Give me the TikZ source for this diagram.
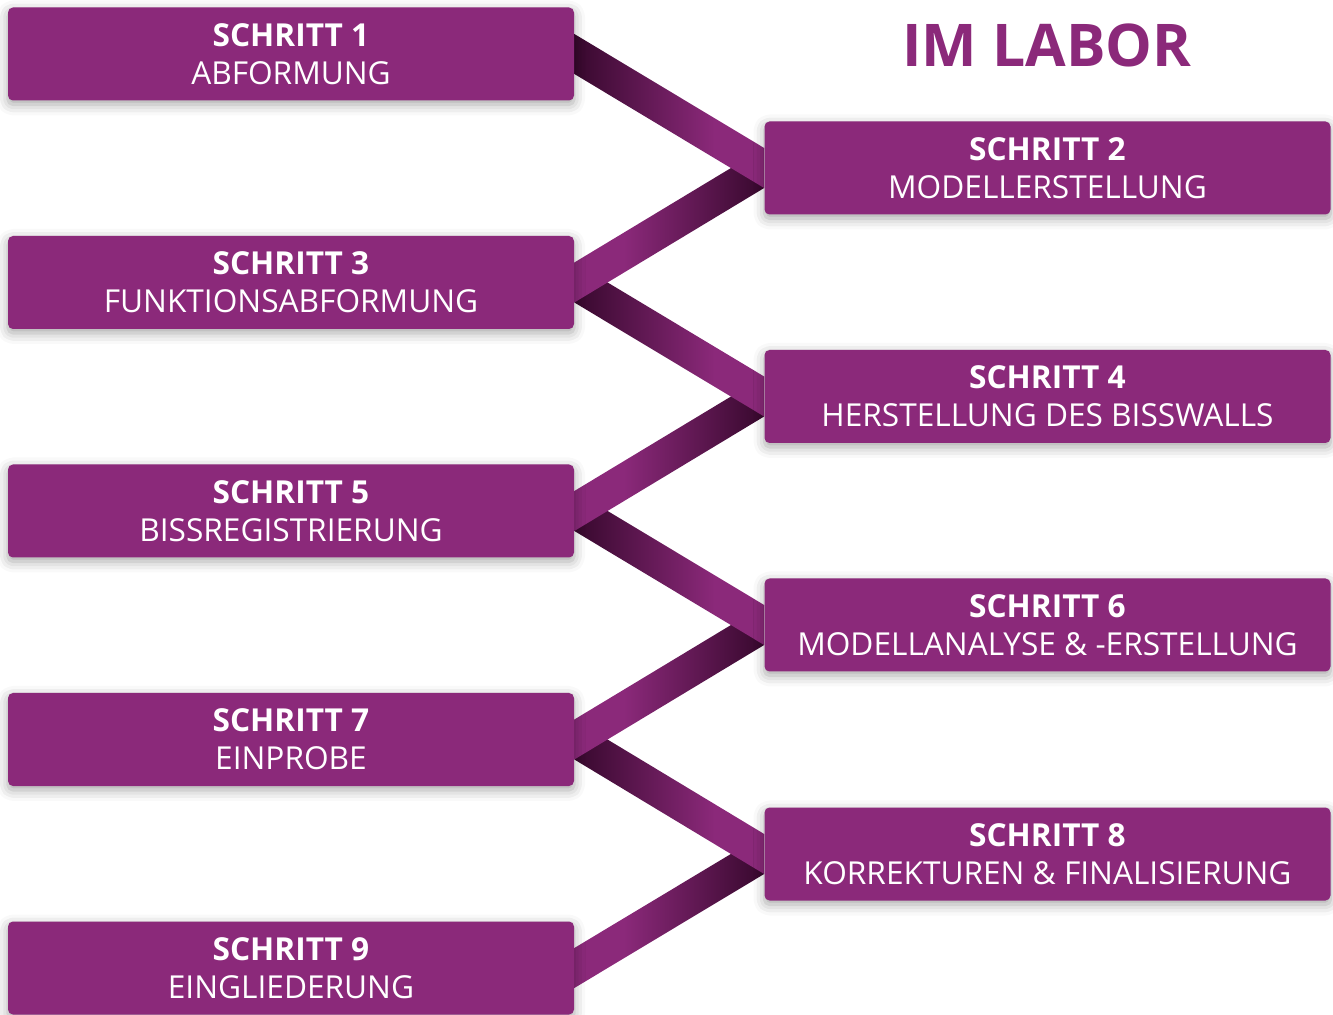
\documentclass[tikz,border=0pt]{standalone}
\usepackage{fontspec}
\setmainfont{Open Sans}
\usetikzlibrary{positioning}
\usetikzlibrary{backgrounds}
\usetikzlibrary{shadows.blur}
\definecolor{labor}{RGB}{139,41,122}
\definecolor{labordark}{RGB}{55,8,45}
\pgfdeclarehorizontalshading{bandfalls}{100bp}{color(0bp)=(labordark); color(25bp)=(labordark); color(62bp)=(labor); color(100bp)=(labor)}
\pgfdeclarehorizontalshading{bandsteigt}{100bp}{color(0bp)=(labor); color(38bp)=(labor); color(75bp)=(labordark); color(100bp)=(labordark)}
\tikzset{
    stepbox/.style = {rectangle, fill=labor, rounded corners=0.1cm, minimum width=11.32cm, minimum height=1.86cm,
        inner sep=0pt, text=white, align=center, font=\fontsize{18}{21.5}\selectfont,
        blur shadow={shadow xshift=0pt, shadow yshift=-0.08cm, shadow blur radius=0.22cm, shadow opacity=35}},
    titel/.style = {text=labor, font=\fontsize{33.5}{38}\selectfont\bfseries},
    banddown/.style = {shading=bandfalls}, % links oben, rechts unten
    bandup/.style = {shading=bandsteigt}   % links unten, rechts oben
}
\newcommand{\Band}[3]{\shade[#3] ([yshift=0.4cm]#1.east) -- ([yshift=0.4cm]#2.west) -- ([yshift=-0.4cm]#2.west) -- ([yshift=-0.4cm]#1.east) -- cycle;}

\begin{document}
\begin{tikzpicture}
\useasboundingbox (0,0) rectangle (26.66,20.28);
\node[titel] at (20.94,19.38) (titel) {IM LABOR};
%
\node[stepbox] at (5.82,19.20) (s1) {\textbf{SCHRITT 1}\\ABFORMUNG};
\node[stepbox] at (20.95,16.92) (s2) {\textbf{SCHRITT 2}\\MODELLERSTELLUNG};
\node[stepbox] at (5.82,14.63) (s3) {\textbf{SCHRITT 3}\\FUNKTIONSABFORMUNG};
\node[stepbox] at (20.95,12.35) (s4) {\textbf{SCHRITT 4}\\HERSTELLUNG DES BISSWALLS};
\node[stepbox] at (5.82,10.06) (s5) {\textbf{SCHRITT 5}\\BISSREGISTRIERUNG};
\node[stepbox] at (20.95,7.78) (s6) {\textbf{SCHRITT 6}\\MODELLANALYSE \& -ERSTELLUNG};
\node[stepbox] at (5.82,5.49) (s7) {\textbf{SCHRITT 7}\\EINPROBE};
\node[stepbox] at (20.95,3.20) (s8) {\textbf{SCHRITT 8}\\KORREKTUREN \& FINALISIERUNG};
\node[stepbox] at (5.82,0.92) (s9) {\textbf{SCHRITT 9}\\EINGLIEDERUNG};
%
\begin{scope}[on background layer]
\Band{s9}{s8}{bandup}
\Band{s7}{s8}{banddown}
\Band{s7}{s6}{bandup}
\Band{s5}{s6}{banddown}
\Band{s5}{s4}{bandup}
\Band{s3}{s4}{banddown}
\Band{s3}{s2}{bandup}
\Band{s1}{s2}{banddown}
\end{scope}
\end{tikzpicture}
\end{document}
